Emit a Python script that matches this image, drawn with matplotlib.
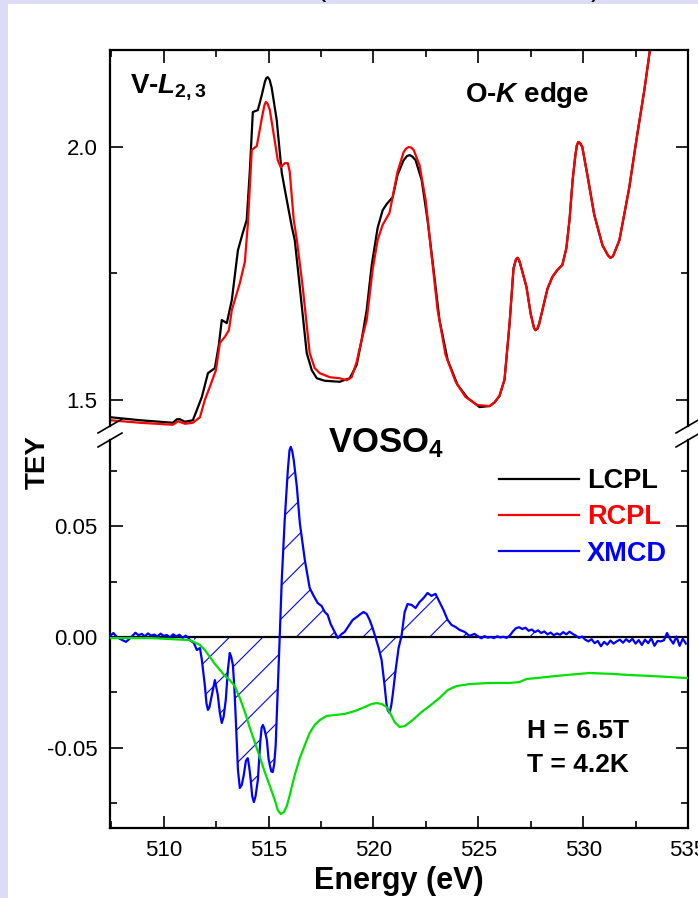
import numpy as np
import matplotlib
matplotlib.use("Agg")
import matplotlib.pyplot as plt
from matplotlib.ticker import MultipleLocator, FormatStrFormatter
from matplotlib.lines import Line2D
from matplotlib.patches import Rectangle

plt.rcParams['font.family'] = ['Liberation Sans', 'DejaVu Sans']
plt.rcParams['axes.unicode_minus'] = False
plt.rcParams['mathtext.fontset'] = 'custom'
plt.rcParams['mathtext.rm'] = 'Liberation Sans:bold'
plt.rcParams['mathtext.it'] = 'Liberation Sans:italic:bold'
plt.rcParams['mathtext.bf'] = 'Liberation Sans:bold'
plt.rcParams['hatch.linewidth'] = 0.8

# --- absorption spectra (TEY), left and right circular polarisation ---
lcpl_head_e = [507.44, 508.87, 510.44, 510.63, 510.77, 511.01, 511.39, 511.58, 511.82, 512.11,
               512.44, 512.63, 512.77, 513.01, 513.25, 513.54, 513.77, 513.96, 514.11, 514.25,
               514.49, 514.68, 514.82, 514.89, 514.96, 515.05, 515.15, 515.39, 515.63, 515.87,
               516.11, 516.25, 516.49, 516.82, 517.06, 517.30, 517.68, 518.39, 518.87, 519.20,
               519.44, 519.68, 519.92, 520.20, 520.44, 520.63, 520.92, 521.15, 521.44, 521.60,
               521.73, 521.86, 522.01, 522.30, 522.58, 522.87, 523.15, 523.54, 524.01, 524.49,
               525.06]
lcpl_head = [1.466, 1.460, 1.455, 1.462, 1.462, 1.457, 1.460, 1.480, 1.506, 1.553,
             1.563, 1.609, 1.658, 1.652, 1.698, 1.796, 1.830, 1.856, 1.955, 2.069,
             2.073, 2.103, 2.128, 2.136, 2.138, 2.133, 2.117, 2.053, 1.949, 1.895,
             1.842, 1.816, 1.723, 1.593, 1.559, 1.543, 1.538, 1.536, 1.543, 1.569,
             1.619, 1.678, 1.767, 1.840, 1.875, 1.887, 1.901, 1.945, 1.974, 1.982,
             1.984, 1.981, 1.974, 1.935, 1.856, 1.757, 1.658, 1.579, 1.530, 1.504,
             1.486]

rcpl_head_e = [507.44, 508.87, 510.44, 510.68, 511.01, 511.39, 511.73, 511.96, 512.20, 512.49,
               512.68, 512.92, 513.11, 513.25, 513.63, 513.87, 514.01, 514.20, 514.44, 514.68,
               514.80, 514.87, 514.95, 515.06, 515.25, 515.44, 515.58, 515.77, 515.92, 516.01,
               516.20, 516.35, 516.63, 516.96, 517.20, 517.44, 517.92, 518.39, 518.73, 518.96,
               519.20, 519.44, 519.68, 519.96, 520.20, 520.44, 520.77, 521.15, 521.44, 521.56,
               521.68, 521.80, 521.92, 522.20, 522.49, 522.77, 523.06, 523.44, 523.92, 524.39,
               524.96]
rcpl_head = [1.460, 1.455, 1.451, 1.458, 1.453, 1.455, 1.466, 1.500, 1.526, 1.559,
             1.613, 1.625, 1.638, 1.678, 1.731, 1.773, 1.846, 1.994, 2.002, 2.057,
             2.082, 2.089, 2.086, 2.073, 2.024, 1.974, 1.960, 1.968, 1.968, 1.951,
             1.856, 1.816, 1.723, 1.593, 1.563, 1.553, 1.545, 1.543, 1.539, 1.545,
             1.575, 1.619, 1.658, 1.757, 1.816, 1.846, 1.870, 1.951, 1.990, 1.997,
             2.000, 1.999, 1.994, 1.964, 1.895, 1.787, 1.678, 1.589, 1.536, 1.506,
             1.490]

# O-K edge part, identical for both polarisations
ok_tail_e = [525.54, 525.77, 526.01, 526.25, 526.49, 526.68, 526.80, 526.87, 526.95, 527.06,
             527.30, 527.50, 527.66, 527.73, 527.82, 527.90, 528.06, 528.30, 528.53, 528.77,
             529.01, 529.20, 529.35, 529.50, 529.63, 529.70, 529.77, 529.85, 529.96, 530.20,
             530.53, 530.92, 531.18, 531.30, 531.42, 531.54, 531.73, 532.20, 532.54, 532.92,
             533.25]
ok_tail = [1.488, 1.495, 1.508, 1.540, 1.650, 1.760, 1.778, 1.781, 1.776, 1.760,
           1.723, 1.670, 1.642, 1.638, 1.641, 1.650, 1.678, 1.720, 1.743, 1.757,
           1.767, 1.800, 1.856, 1.935, 1.984, 2.003, 2.010, 2.008, 2.000, 1.945,
           1.866, 1.806, 1.786, 1.781, 1.784, 1.796, 1.816, 1.920, 2.014, 2.113,
           2.211]

# --- XMCD (RCPL - LCPL) ---
xmcd_pre = [0.0005, 0.0018, 0.0002, -0.0008, -0.0015, -0.0022, -0.0010, 0.0004, 0.0019, 0.0008,
            0.0014, 0.0003, 0.0016, 0.0006, 0.0011, 0.0002, 0.0015, 0.0005, 0.0009, -0.0002,
            0.0012, 0.0003, 0.0010, -0.0004, 0.0006, -0.0006]
xmcd_main_e = [511.25, 511.44, 511.58, 511.73, 511.82, 511.96, 512.04, 512.11, 512.18, 512.25,
               512.44, 512.58, 512.68, 512.77, 512.86, 512.96, 513.06, 513.15, 513.22, 513.30,
               513.37, 513.44, 513.54, 513.63, 513.72, 513.82, 513.92, 514.01, 514.08, 514.15,
               514.22, 514.30, 514.38, 514.49, 514.60, 514.67, 514.73, 514.80, 514.92, 515.00,
               515.06, 515.13, 515.20, 515.27, 515.34, 515.44, 515.53, 515.63, 515.77, 515.92,
               516.00, 516.06, 516.13, 516.20, 516.35, 516.49, 516.73, 516.96, 517.15, 517.34,
               517.53, 517.68, 517.82, 517.96, 518.15, 518.30, 518.49, 518.63, 518.82, 519.01,
               519.20, 519.39, 519.53, 519.68, 519.82, 519.96, 520.11, 520.25, 520.39, 520.53,
               520.62, 520.68, 520.77, 520.85, 520.92, 521.06, 521.20, 521.34, 521.49, 521.63,
               521.82, 522.01, 522.20, 522.39, 522.58, 522.77, 522.96, 523.15, 523.34, 523.54,
               523.73, 523.92, 524.11, 524.35, 524.58, 524.82]
xmcd_main = [-0.0014, -0.0027, -0.0059, -0.0050, -0.0104, -0.0217, -0.0300, -0.0330, -0.0318, -0.0285,
             -0.0195, -0.0262, -0.0345, -0.0389, -0.0360, -0.0285, -0.0150, -0.0072, -0.0090, -0.0127,
             -0.0230, -0.0376, -0.0600, -0.0683, -0.0670, -0.0624, -0.0560, -0.0548, -0.0590, -0.0647,
             -0.0720, -0.0747, -0.0720, -0.0647, -0.0480, -0.0410, -0.0398, -0.0415, -0.0466, -0.0550,
             -0.0579, -0.0608, -0.0611, -0.0575, -0.0489, -0.0240, -0.0005, 0.0258, 0.0529, 0.0756,
             0.0845, 0.0860, 0.0840, 0.0801, 0.0679, 0.0516, 0.0348, 0.0222, 0.0186, 0.0154,
             0.0140, 0.0113, 0.0100, 0.0059, 0.0023, -0.0005, 0.0014, 0.0023, 0.0050, 0.0077,
             0.0090, 0.0104, 0.0113, 0.0104, 0.0077, 0.0041, -0.0005, -0.0050, -0.0104, -0.0217,
             -0.0300, -0.0330, -0.0344, -0.0310, -0.0262, -0.0149, -0.0050, 0.0005, 0.0113, 0.0149,
             0.0145, 0.0131, 0.0158, 0.0176, 0.0199, 0.0186, 0.0195, 0.0158, 0.0122, 0.0077,
             0.0054, 0.0045, 0.0032, 0.0023, 0.0005, 0.0014]
xmcd_post = [0.0002, -0.0006, 0.0004, -0.0003, 0.0000, -0.0005, 0.0003, -0.0002, 0.0001, -0.0004,
             0.0006, 0.0025, 0.0040, 0.0044, 0.0036, 0.0042, 0.0028, 0.0034, 0.0022, 0.0030,
             0.0018, 0.0025, 0.0012, 0.0020, 0.0008, 0.0016, 0.0010, 0.0022, 0.0012, 0.0024,
             0.0014, 0.0006, -0.0004, 0.0002, -0.0012, -0.0020, -0.0010, -0.0028, -0.0018, -0.0042,
             -0.0022, -0.0035, -0.0016, -0.0030, -0.0020, -0.0012, -0.0026, -0.0010, -0.0022, -0.0008,
             -0.0030, -0.0014, -0.0036, -0.0012, -0.0028, -0.0006, -0.0040, -0.0018, -0.0020, -0.0015,
             0.0018, -0.0010, -0.0030, 0.0002, -0.0040, -0.0008, -0.0030]

# integrated XMCD
integ_e = [507.44, 509.40, 511.25, 511.73, 511.96, 512.20, 512.44, 512.68, 512.92, 513.15,
           513.39, 513.63, 513.87, 514.11, 514.34, 514.58, 514.82, 515.06, 515.30, 515.44,
           515.58, 515.73, 515.87, 516.01, 516.25, 516.49, 516.73, 516.96, 517.20, 517.44,
           517.77, 518.15, 518.63, 519.11, 519.58, 519.92, 520.16, 520.39, 520.63, 520.82,
           521.01, 521.25, 521.49, 521.87, 522.30, 522.68, 523.15, 523.54, 523.96, 524.58,
           525.54, 526.49, 526.96, 527.30, 527.77, 528.25, 529.20, 530.30, 531.39, 532.20,
           533.15, 534.11, 535.0]
integ = [-0.0005, -0.0005, -0.0014, -0.0036, -0.0059, -0.0090, -0.0122, -0.0149, -0.0176, -0.0195,
         -0.0222, -0.0276, -0.0339, -0.0412, -0.0475, -0.0543, -0.0611, -0.0674, -0.0738, -0.0783,
         -0.0801, -0.0792, -0.0765, -0.0715, -0.0624, -0.0548, -0.0489, -0.0434, -0.0398, -0.0376,
         -0.0357, -0.0353, -0.0348, -0.0335, -0.0317, -0.0303, -0.0299, -0.0303, -0.0317, -0.0348,
         -0.0385, -0.0407, -0.0403, -0.0376, -0.0339, -0.0312, -0.0276, -0.0240, -0.0222, -0.0213,
         -0.0208, -0.0208, -0.0204, -0.0190, -0.0186, -0.0181, -0.0172, -0.0163, -0.0167, -0.0172,
         -0.0176, -0.0181, -0.0186]

lcpl_e = np.array(lcpl_head_e + ok_tail_e)
lcpl = np.array(lcpl_head + ok_tail)
rcpl_e = np.array(rcpl_head_e + ok_tail_e)
rcpl = np.array(rcpl_head + ok_tail)

xmcd_e = np.concatenate([np.linspace(507.45, 511.20, len(xmcd_pre)), xmcd_main_e,
                         np.linspace(525.0, 534.9, len(xmcd_post))])
xmcd = np.array(xmcd_pre + xmcd_main + xmcd_post)

# figure laid out in pixel units
W, H = 698, 898
fx = lambda px: px / W
fy = lambda py: 1 - py / H

fig = plt.figure(figsize=(W / 100, H / 100), dpi=100, facecolor='#dcdcf7')
fig.patches.append(Rectangle((fx(8), 0), 1 - fx(8), fy(4), transform=fig.transFigure,
                             facecolor='white', edgecolor='none', zorder=-1))

ax_top = fig.add_axes([fx(110), fy(426), (688 - 110) / W, (426 - 50) / H])
ax_bot = fig.add_axes([fx(110), fy(828), (688 - 110) / W, (828 - 440) / H])

l_black, = ax_top.plot(lcpl_e, lcpl, color='black', lw=1.6)
l_red, = ax_top.plot(rcpl_e, rcpl, color='#ff0000', lw=1.6)
ax_top.set_ylim(1.4486, 2.1917)

ax_bot.axhline(0, color='black', lw=1.6, zorder=2)
sel = (xmcd_e >= 511.4) & (xmcd_e <= 528.6)
ax_bot.fill_between(xmcd_e[sel], xmcd[sel], 0, facecolor='none', edgecolor='#0000ff',
                    hatch='/', linewidth=0, interpolate=True, zorder=1)
l_blue, = ax_bot.plot(xmcd_e, xmcd, color='#0000ff', lw=1.6, zorder=3)
ax_bot.plot(integ_e, integ, color='#00e000', lw=1.6, zorder=4)
ax_bot.set_ylim(-0.0864, 0.0891)

for ax in (ax_top, ax_bot):
    ax.set_xlim(507.44, 535.0)
    ax.xaxis.set_major_locator(MultipleLocator(5))
    ax.xaxis.set_minor_locator(MultipleLocator(2.5))
    ax.tick_params(which='both', direction='in', width=1.2, labelsize=16, pad=9, right=True)
    ax.tick_params(which='major', length=9)
    ax.tick_params(which='minor', length=5)
    for s in ax.spines.values():
        s.set_linewidth(1.6)

ax_top.spines['bottom'].set_visible(False)
ax_top.tick_params(which='both', top=True, bottom=False, labelbottom=False)
ax_top.yaxis.set_major_locator(MultipleLocator(0.5))
ax_top.yaxis.set_minor_locator(MultipleLocator(0.25))
ax_top.yaxis.set_major_formatter(FormatStrFormatter('%.1f'))

ax_bot.spines['top'].set_visible(False)
ax_bot.tick_params(which='both', top=False)
ax_bot.yaxis.set_major_locator(MultipleLocator(0.05))
ax_bot.yaxis.set_minor_locator(MultipleLocator(0.025))
ax_bot.yaxis.set_major_formatter(FormatStrFormatter('%.2f'))

# axis break marks
for x0 in (110, 688):
    for yc in (426, 440):
        fig.add_artist(Line2D([fx(x0 - 12), fx(x0 + 12)], [fy(yc + 7), fy(yc - 7)],
                              transform=fig.transFigure, color='black', lw=1.2))

fig.text(fx(38), fy(462), 'TEY', rotation=90, fontsize=20, fontweight='bold',
         ha='center', va='center')
fig.text(fx(399), fy(881), 'Energy (eV)', fontsize=22, fontweight='bold',
         ha='center', va='center')

fig.text(fx(130), fy(92), r'V-$\mathit{L_{2,3}}$', fontsize=20, fontweight='bold', va='baseline')
fig.text(fx(465), fy(102), r'O-$\mathit{K}$ edge', fontsize=20, fontweight='bold', va='baseline')
fig.text(fx(328), fy(452), r'VOSO$_4$', fontsize=25, fontweight='bold', va='baseline')
fig.text(fx(527), fy(738), 'H = 6.5T', fontsize=19, fontweight='bold', va='baseline')
fig.text(fx(527), fy(772), 'T = 4.2K', fontsize=19, fontweight='bold', va='baseline')

# tails of the slide title above the plot
fig.text(fx(316), fy(-4), '(', fontsize=20, va='baseline')
fig.text(fx(591), fy(-4), ')', fontsize=20, va='baseline')

ax_bot.legend([l_black, l_red, l_blue], ['LCPL', 'RCPL', 'XMCD'], loc='upper left',
              bbox_to_anchor=(fx(499), fy(468)), bbox_transform=fig.transFigure,
              frameon=False, borderpad=0, borderaxespad=0, handlelength=2.95,
              handletextpad=0.3, labelspacing=0.38, labelcolor='linecolor',
              prop={'weight': 'bold', 'size': 19.5})

fig.savefig('out.png', dpi=100, facecolor=fig.get_facecolor())
